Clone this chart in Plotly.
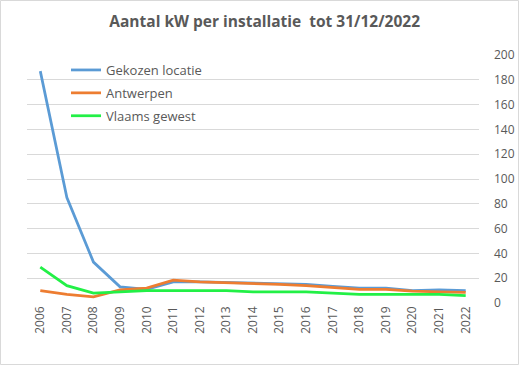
import plotly.graph_objects as go

years = [str(y) for y in range(2006, 2023)]
gekozen = [187, 85, 33, 13, 11, 17, 17, 16.5, 16.5, 16, 15, 13.5, 12, 12, 10, 10.5, 10]
antwerpen = [10, 7, 5, 10.5, 12, 18.5, 17, 16.5, 16, 15, 14, 12.5, 11, 11, 9.5, 9, 8.5]
vlaams = [29, 14, 8, 9, 10, 10, 10, 10, 9, 9, 9, 8, 7, 7, 7, 7, 6]

W, H = 519, 365
ml, mr, mt, mb = 27, 40, 55, 62
pw = W - ml - mr
ph = H - mt - mb

fig = go.Figure()
for i, (name, vals, col) in enumerate([("Gekozen locatie", gekozen, "#5B9BD5"),
                                       ("Antwerpen", antwerpen, "#ED7D31"),
                                       ("Vlaams gewest", vlaams, "#22F046")]):
    fig.add_trace(go.Scatter(x=years, y=vals, name=name, mode="lines",
                             legendgroup=f"g{i}",
                             line=dict(color=col, width=2.75)))

fig.update_layout(
    width=W, height=H,
    margin=dict(l=ml, r=mr, t=mt, b=mb),
    paper_bgcolor="white", plot_bgcolor="white",
    font=dict(family="Open Sans, Liberation Sans, sans-serif", color="#595959", size=12),
    title=dict(text="<b>Aantal kW per installatie  tot 31/12/2022</b>",
               x=0.51, xanchor="center", y=1 - 22 / H, yanchor="middle",
               font=dict(size=15.5, color="#595959")),
    legend=dict(x=(66 - ml) / pw, y=1 - (55 - mt) / ph,
                xanchor="left", yanchor="top",
                bgcolor="rgba(0,0,0,0)", font=dict(size=13, color="#595959"),
                tracegroupgap=3, itemwidth=30),
    showlegend=True,
)
fig.update_xaxes(type="category", range=[-0.5, 16.5], tickangle=-90, showgrid=False,
                 showline=False, ticks="", tickfont=dict(size=12, color="#595959"),
                 automargin=False)
fig.update_yaxes(side="right", range=[0, 200], dtick=20, showgrid=True,
                 gridcolor="#D9D9D9", gridwidth=1, zeroline=False, showline=False,
                 ticks="", tickfont=dict(size=12, color="#595959"), ticklabelstandoff=14,
                 automargin=False)

fig.add_shape(type="rect", xref="paper", yref="paper",
              x0=(0.5 - ml) / pw, x1=(W - 0.5 - ml) / pw,
              y0=-(mb - 0.5) / ph, y1=1 + (mt - 0.5) / ph,
              line=dict(color="#D9D9D9", width=1), layer="below")

fig.write_html("out.html", config={"displayModeBar": False},
               post_script="document.body.style.margin='0';document.body.style.overflow='hidden';")
